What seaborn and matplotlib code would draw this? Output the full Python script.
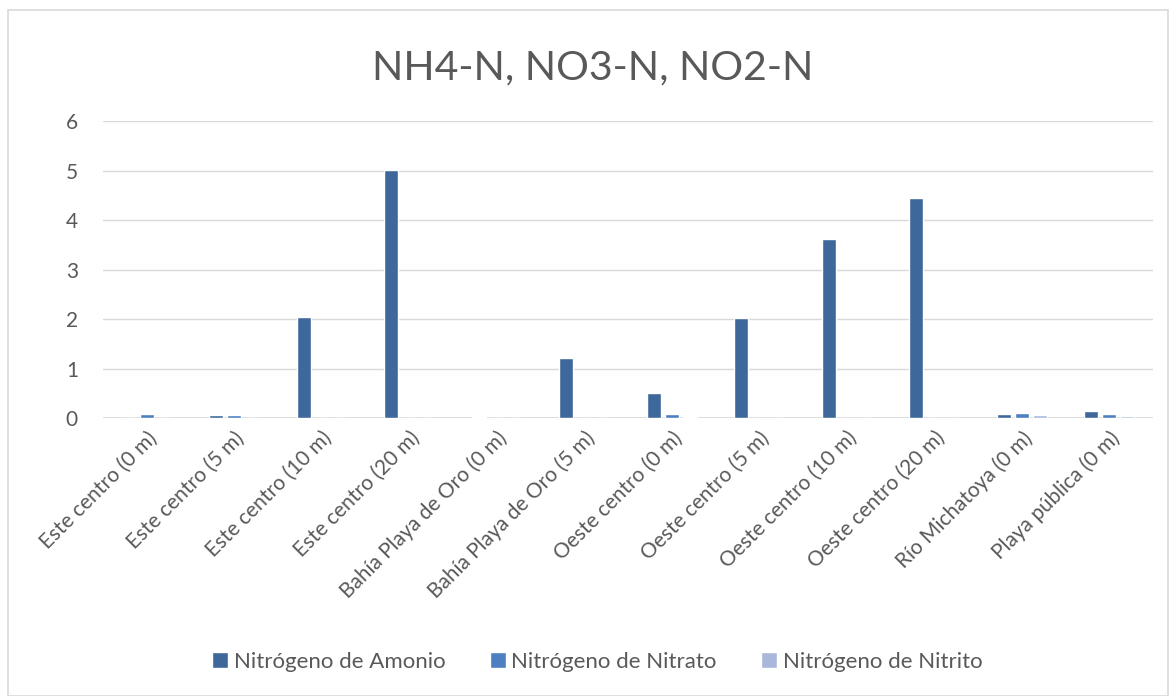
import seaborn as sns
from matplotlib import pyplot as plt
from matplotlib.patches import Rectangle
import pandas as pd

sites = ['Este centro (0 m)', 'Este centro (5 m)', 'Este centro (10 m)',
         'Este centro (20 m)', 'Bahía Playa de Oro (0 m)', 'Bahía Playa de Oro (5 m)',
         'Oeste centro (0 m)', 'Oeste centro (5 m)', 'Oeste centro (10 m)',
         'Oeste centro (20 m)', 'Río Michatoya (0 m)', 'Playa pública (0 m)']
amonio = [0.01, 0.07, 2.05, 5.02, 0.02, 1.21, 0.50, 2.03, 3.61, 4.44, 0.09, 0.15]
nitrato = [0.08, 0.06, 0.0, 0.0, 0.0, 0.0, 0.08, 0.0, 0.0, 0.0, 0.11, 0.08]
nitrito = [0.0, 0.0, 0.0, 0.0, 0.0, 0.0, 0.03, 0.0, 0.0, 0.0, 0.06, 0.05]
series = ['Nitrógeno de Amonio', 'Nitrógeno de Nitrato', 'Nitrógeno de Nitrito']
colors = ['#3E689B', '#4E80C1', '#A8B7DA']

rows = []
for name, vals in zip(series, [amonio, nitrato, nitrito]):
    for s, v in zip(sites, vals):
        rows.append({'sitio': s, 'serie': name, 'valor': v})
df = pd.DataFrame(rows)

sns.set_style('white')
plt.rcParams['font.family'] = ['Lato', 'DejaVu Sans']
grey = '#595959'

fig = plt.figure(figsize=(11.69, 6.96), dpi=100)
ax = fig.add_axes([0.0881, 0.3994, 0.8982, 0.4267])

sns.barplot(data=df, x='sitio', y='valor', hue='serie', palette=colors,
            saturation=1, width=0.62, gap=0.22, ax=ax, legend=True)

ax.set_ylim(0, 6)
ax.set_xlim(-0.5, len(sites) - 0.5)
ax.set_yticks(range(0, 7))
ax.yaxis.grid(True, color='#D9D9D9', linewidth=1)
ax.set_axisbelow(True)
for sp in ax.spines.values():
    sp.set_visible(False)
ax.axhline(0, color='#D9D9D9', linewidth=1.2, zorder=0)
ax.tick_params(axis='both', length=0, labelsize=15, labelcolor=grey)
ax.tick_params(axis='y', pad=18)
ax.tick_params(axis='x', pad=7)
plt.setp(ax.get_xticklabels(), rotation=45, ha='right', rotation_mode='anchor')
ax.set_xlabel('')
ax.set_ylabel('')

handles, labels = ax.get_legend_handles_labels()
ax.legend_.remove()
fig.legend(handles, labels, loc='center', bbox_to_anchor=(0.511, 0.049), ncol=3,
           frameon=False, fontsize=16, labelcolor=grey, handlelength=0.72,
           handleheight=0.72, handletextpad=0.25, columnspacing=2.0)

fig.text(0.507, 0.902, 'NH4-N, NO3-N, NO2-N', ha='center', va='center',
         fontsize=29.5, color=grey)

fig.patches.append(Rectangle((0.007, 0.0), 0.992, 0.985, transform=fig.transFigure,
                             fill=False, edgecolor='#D9D9D9', linewidth=1.2))

fig.savefig('out.png', dpi=100, facecolor='white')
